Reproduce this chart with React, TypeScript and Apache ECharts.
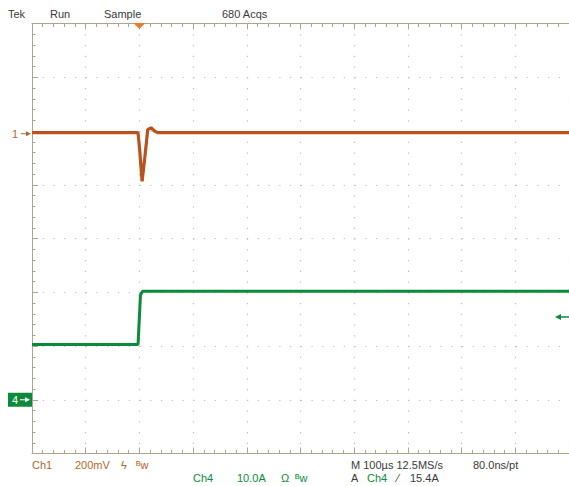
import React, { useEffect, useRef } from "react";
import * as echarts from "echarts";

// ---- data ----
// time axis: 100 µs/div, trigger at 0
const timeRangeUs = { min: -200, max: 800, step: 100 };
// channel 1: 200 mV/div
const ch1Range = { min: -1200, max: 400, step: 200 };
const ch1TimeUs = [-200, -2.6, 0.5, 5, 10, 15.5, 21.7, 28, 34, 800];
const ch1mV = [-6, -6, -69, -187, -100, 5, 12, 0, -6, -6];
const ch1GroundmV = -10;
// channel 4: 10 A/div
const ch4Range = { min: -10, max: 70, step: 10 };
const ch4TimeUs = [-200, -2.5, 0.5, 2, 6, 800];
const ch4Amp = [10.3, 10.3, 16.5, 19.5, 20.2, 20.2];
const ch4GroundA = 0;
const triggerTimeUs = 0;
const triggerLevelA = 15.4;

const headerLabels = ["Tek", "Run", "Sample", "680 Acqs"];
const ch1Labels = ["Ch1", "200mV", "ϟ", "ᴮw"];
const ch4Labels = ["Ch4", "10.0A", "Ω", "ᴮw"];
const timebaseLabels = ["M 100µs 12.5MS/s", "80.0ns/pt"];
const triggerLabels = ["A", "Ch4", "⁄", "15.4A"];

const ORANGE = "#b8531f";
const ORANGE_TXT = "#b0682a";
const GREEN = "#0c8a3c";
const DARK = "#3a3a3a";
const FRAME = "#aca68f";
const DOTS = "#bdbdbd";
const FONT = "'Liberation Sans', Arial, sans-serif";

function txt(text: string, x: number, y: number, fill: string, size = 11) {
  return {
    type: "text",
    x,
    y,
    style: { text, fill, font: `${size}px ${FONT}`, textVerticalAlign: "middle", verticalAlign: "middle" },
    z: 10,
  };
}

export default function App() {
  const ref = useRef<HTMLDivElement>(null);
  useEffect(() => {
    if (!ref.current) return;
    const chart = echarts.init(ref.current, undefined, { renderer: "svg" });
    const axisCommon = {
      axisLabel: { show: false },
      axisLine: { show: true, onZero: false, lineStyle: { color: FRAME, width: 1 } },
      axisTick: { show: true, inside: true, length: 6, lineStyle: { color: FRAME } },
      minorTick: { show: true, splitNumber: 5, length: 3.5, lineStyle: { color: FRAME } },
    };
    const split = { show: true, lineStyle: { color: DOTS, width: 1.2, type: [1.2, 9.55] } };
    chart.setOption({
      animation: false,
      backgroundColor: "#ffffff",
      grid: { left: 32, top: 23.5, right: -3, bottom: 32.5 },
      xAxis: [
        { type: "value", min: timeRangeUs.min, max: timeRangeUs.max, interval: timeRangeUs.step, position: "bottom", ...axisCommon, splitLine: split },
        { type: "value", min: timeRangeUs.min, max: timeRangeUs.max, interval: timeRangeUs.step, position: "top", ...axisCommon, splitLine: { show: false } },
      ],
      yAxis: [
        { type: "value", min: ch1Range.min, max: ch1Range.max, interval: ch1Range.step, position: "left", ...axisCommon, splitLine: split },
        { type: "value", min: ch4Range.min, max: ch4Range.max, interval: ch4Range.step, show: false, splitLine: { show: false } },
      ],
      series: [
        {
          type: "line",
          xAxisIndex: 0,
          yAxisIndex: 0,
          showSymbol: false,
          data: ch1TimeUs.map((t, i) => [t, ch1mV[i]]),
          lineStyle: { color: ORANGE, width: 3.2 },
          z: 3,
        },
        {
          type: "line",
          xAxisIndex: 0,
          yAxisIndex: 1,
          showSymbol: false,
          data: ch4TimeUs.map((t, i) => [t, ch4Amp[i]]),
          lineStyle: { color: GREEN, width: 3 },
          z: 4,
        },
      ],
    });

    const trigX = chart.convertToPixel({ xAxisIndex: 0 }, triggerTimeUs) as number;
    const ch1Y = chart.convertToPixel({ yAxisIndex: 0 }, ch1GroundmV) as number;
    const ch4Y = chart.convertToPixel({ yAxisIndex: 1 }, ch4GroundA) as number;
    const trigY = chart.convertToPixel({ yAxisIndex: 1 }, triggerLevelA) as number;

    const headerX = [8, 50, 104, 222];
    const ch1X = [32, 75, 121, 136];
    const ch4X = [193, 237, 281, 295];
    const tbX = [351, 473];
    const trX = [351, 367, 397, 410];

    const graphics: any[] = [];
    headerLabels.forEach((s, i) => graphics.push(txt(s, headerX[i], 14, DARK)));
    ch1Labels.forEach((s, i) => graphics.push(txt(s, ch1X[i], 465, ORANGE_TXT)));
    ch4Labels.forEach((s, i) => graphics.push(txt(s, ch4X[i], 478, GREEN)));
    timebaseLabels.forEach((s, i) => graphics.push(txt(s, tbX[i], 465, DARK)));
    triggerLabels.forEach((s, i) => graphics.push(txt(s, trX[i], 478, i === 1 ? GREEN : DARK)));

    // trigger position marker
    graphics.push({
      type: "polygon",
      shape: { points: [[trigX - 6, 23], [trigX + 6, 23], [trigX, 29]] },
      style: { fill: "#ee7a30" },
      z: 10,
    });
    // ch1 ground marker
    graphics.push(txt("1", 12, ch1Y, ORANGE_TXT));
    graphics.push({ type: "line", shape: { x1: 21, y1: ch1Y, x2: 29, y2: ch1Y }, style: { stroke: ORANGE_TXT, lineWidth: 1 }, z: 10 });
    graphics.push({ type: "polygon", shape: { points: [[26, ch1Y - 2.5], [31, ch1Y], [26, ch1Y + 2.5]] }, style: { fill: ORANGE_TXT }, z: 10 });
    // ch4 ground marker
    graphics.push({ type: "rect", shape: { x: 8, y: ch4Y - 7, width: 24, height: 14 }, style: { fill: GREEN }, z: 10 });
    graphics.push(txt("4", 12, ch4Y, "#ffffff"));
    graphics.push({ type: "line", shape: { x1: 20, y1: ch4Y, x2: 28, y2: ch4Y }, style: { stroke: "#ffffff", lineWidth: 1 }, z: 11 });
    graphics.push({ type: "polygon", shape: { points: [[25, ch4Y - 2.5], [30, ch4Y], [25, ch4Y + 2.5]] }, style: { fill: "#ffffff" }, z: 11 });
    // trigger level marker (right edge)
    graphics.push({ type: "line", shape: { x1: 557, y1: trigY, x2: 569, y2: trigY }, style: { stroke: GREEN, lineWidth: 1.5 }, z: 10 });
    graphics.push({ type: "polygon", shape: { points: [[561, trigY - 3], [555, trigY], [561, trigY + 3]] }, style: { fill: GREEN }, z: 10 });

    chart.setOption({ graphic: graphics });
    return () => chart.dispose();
  }, []);
  return <div ref={ref} style={{ position: "fixed", left: 0, top: 0, width: 569, height: 486, background: "#fff" }} />;
}
